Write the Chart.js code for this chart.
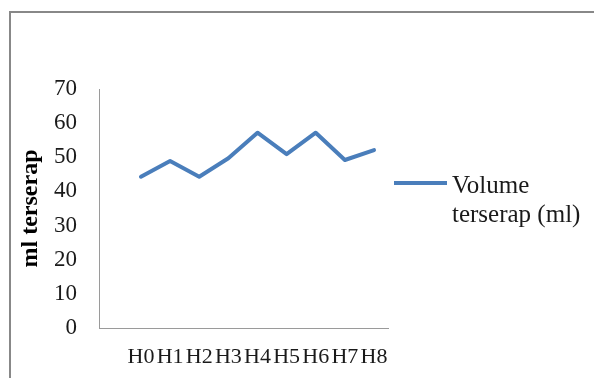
<!DOCTYPE html>
<html>
<head>
<meta charset="utf-8">
<script src="https://cdn.jsdelivr.net/npm/chart.js@4/dist/chart.umd.min.js"></script>
<style>
  html, body { margin: 0; padding: 0; background: #ffffff; }
  #wrap { position: relative; width: 594px; height: 378px; overflow: hidden; }
  #frame {
    position: absolute; left: 9px; top: 11px; width: 700px; height: 500px;
    border-left: 2px solid #888888; border-top: 2px solid #888888;
    box-sizing: border-box; pointer-events: none;
  }
  canvas { position: absolute; left: 0; top: 0; }
</style>
</head>
<body>
<div id="wrap">
  <canvas id="chart" width="594" height="378"></canvas>
  <div id="frame"></div>
</div>
<script>
// Days of observation and absorbed volume per day
const categories = ['H0', 'H1', 'H2', 'H3', 'H4', 'H5', 'H6', 'H7', 'H8'];
const volumeValues = [44.3, 48.9, 44.3, 49.7, 57.2, 50.9, 57.2, 49.2, 52.1];
const yTicks = [0, 10, 20, 30, 40, 50, 60, 70];
const seriesName = ['Volume', 'terserap (ml)'];
const yTitle = 'ml terserap';

const SERIF = '"Liberation Serif", "Times New Roman", serif';
const LINE_COLOR = '#4a7ebb';
const AXIS_COLOR = '#9a9a9a';

const points = volumeValues.map((v, i) => ({ x: i, y: v }));

// Legend drawn to the right of the plot, wrapped on two lines
const sideLegend = {
  id: 'sideLegend',
  afterDraw(chart) {
    const ctx = chart.ctx;
    ctx.save();
    ctx.strokeStyle = LINE_COLOR;
    ctx.lineWidth = 4;
    ctx.lineCap = 'butt';
    ctx.beginPath();
    ctx.moveTo(394, 183);
    ctx.lineTo(447, 183);
    ctx.stroke();
    ctx.fillStyle = '#1a1a1a';
    ctx.font = '25px ' + SERIF;
    ctx.textAlign = 'left';
    ctx.textBaseline = 'alphabetic';
    ctx.fillText(seriesName[0], 452, 193);
    ctx.fillText(seriesName[1], 452, 222);
    ctx.restore();
  }
};

new Chart(document.getElementById('chart'), {
  type: 'line',
  data: {
    datasets: [{
      label: seriesName.join(' '),
      data: points,
      borderColor: LINE_COLOR,
      backgroundColor: LINE_COLOR,
      borderWidth: 4,
      borderJoinStyle: 'round',
      borderCapStyle: 'round',
      pointRadius: 0,
      tension: 0,
      fill: false
    }]
  },
  options: {
    responsive: false,
    animation: false,
    events: [],
    layout: { padding: { left: 0, top: 89, right: 206, bottom: 0 } },
    plugins: { legend: { display: false }, tooltip: { enabled: false } },
    scales: {
      x: {
        type: 'linear',
        min: -1.44,
        max: 8.48,
        grid: { display: false, drawTicks: false },
        border: { display: true, color: AXIS_COLOR, width: 1 },
        afterBuildTicks(scale) {
          scale.ticks = categories.map((_, i) => ({ value: i }));
        },
        afterFit(scale) { scale.height = 50; },
        ticks: {
          autoSkip: false,
          maxRotation: 0,
          minRotation: 0,
          padding: 16,
          color: '#1a1a1a',
          font: { family: SERIF, size: 22 },
          callback: (v) => categories[v] ?? ''
        }
      },
      y: {
        min: 0,
        max: 70,
        grid: { display: false, drawTicks: false },
        border: { display: true, color: AXIS_COLOR, width: 1 },
        afterBuildTicks(scale) {
          scale.ticks = yTicks.map(v => ({ value: v }));
        },
        afterFit(scale) { scale.width = 99; },
        ticks: {
          padding: 22,
          color: '#1a1a1a',
          font: { family: SERIF, size: 23 }
        },
        title: {
          display: true,
          text: yTitle,
          color: '#000000',
          padding: { top: 16, bottom: 0 },
          font: { family: SERIF, size: 24, weight: 'bold' }
        }
      }
    }
  },
  plugins: [sideLegend]
});
</script>
</body>
</html>
